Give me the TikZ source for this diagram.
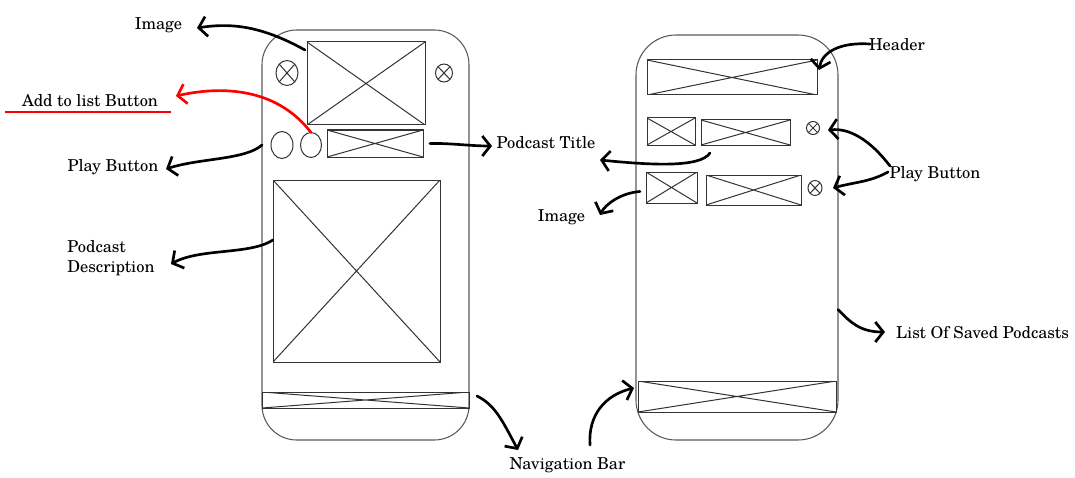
\documentclass[tikz,border=0pt]{standalone}
\usepackage{fontspec}
\setmainfont{TeX Gyre Schola}
\usetikzlibrary{arrows.meta,calc,shapes.geometric}
\begin{document}
\begin{tikzpicture}[x=0.75pt,y=-0.75pt,
  wh/.style 2 args={minimum width=#1*0.75pt,minimum height=#2*0.75pt,inner sep=0pt,outer sep=0pt},
  sketch/.style={draw=black!80,line width=0.75pt},
  phone/.style={draw=black!65,line width=0.8pt,rectangle,rounded corners=#1},
  crossed/.style={path picture={\draw[black!80,line width=0.75pt]
      (path picture bounding box.north west)--(path picture bounding box.south east)
      (path picture bounding box.south west)--(path picture bounding box.north east);}},
  xbox/.style={sketch,rectangle,crossed},
  xcirc/.style={sketch,ellipse,crossed},
  ring/.style={sketch,ellipse},
  lbl/.style={font=\fontsize{12.3}{15}\selectfont,inner sep=1pt},
  harrow/.style={line width=2pt,line cap=round,line join=round,
      -{Straight Barb[length=6pt,width=15pt,line width=2pt]}},
]
\useasboundingbox (0,0) rectangle (1075,478);

% ---------- left phone ----------
\node[phone=26pt,wh={207}{410}] (phoneL) at (365.5,235) {};
\node[xbox,wh={118}{83}] (imgL) at (366,83.5) {};
\node[xcirc,wh={22}{25}] (backL) at (287,73) {};
\node[xcirc,wh={17}{18}] (closeL) at (444,73) {};
\node[ring,wh={22}{27}] (playL) at (282,145) {};
\node[ring,wh={21}{25}] (addL) at (311,145) {};
\node[xbox,wh={96}{27}] (titleL) at (375,143.5) {};
\node[xbox,wh={167}{182}] (descL) at (356.5,271) {};
\node[xbox,wh={207}{16}] (navL) at (365.5,400) {};

% ---------- right phone ----------
\node[phone=30pt,wh={202}{405}] (phoneR) at (737,237.5) {};
\node[xbox,wh={170}{35}] (headR) at (732,77.5) {};
\node[xbox,wh={48}{27}] (thumbR1) at (671,131.5) {};
\node[xbox,wh={89}{25}] (textR1) at (745.5,132.5) {};
\node[xcirc,wh={13}{13}] (playR1) at (813,128) {};
\node[xbox,wh={51}{31}] (thumbR2) at (671.5,187.5) {};
\node[xbox,wh={95}{30}] (textR2) at (753.5,190) {};
\node[xcirc,wh={14}{15}] (playR2) at (815,188) {};
\node[xbox,wh={198}{31}] (navR) at (737,396.5) {};

% ---------- labels ----------
\node[lbl] (lImgL) at (158.5,25) {Image};
\node[lbl] (lAdd) at (90,101) {Add to list Button};
\node[lbl] (lPlayL) at (113,167) {Play Button};
\node[lbl,align=left] (lDesc) at (111,258) {Podcast\\Description};
\node[lbl] (lTitle) at (546,143) {Podcast Title};
\node[lbl] (lNav) at (567.5,465) {Navigation Bar};
\node[lbl] (lHead) at (897,45) {Header};
\node[lbl] (lImgR) at (561.5,217) {Image};
\node[lbl] (lPlayR) at (935,174) {Play Button};
\node[lbl] (lList) at (982.5,333) {List Of Saved Podcasts};

\coordinate (ulA) at (5,112);
\coordinate (ulB) at (171,112);
\draw[red,line width=1.5pt] (ulA) -- (ulB);

% ---------- arrow ends ----------
\coordinate (tImgL) at (197,28);
\coordinate (tAdd) at (176,96);
\coordinate (tPlayL) at (166,169);
\coordinate (tDesc) at (171,264);
\coordinate (tTitleL) at (492,146);
\coordinate (tNavL) at (518,450);
\coordinate (sNavR) at (590,445);
\coordinate (tNavR) at (634,388);
\coordinate (tHead) at (819,70);
\coordinate (sHead) at (870,44);
\coordinate (sPlayR1) at (890,166);
\coordinate (sPlayR2) at (888,172);
\coordinate (tPlayR1) at (828,130);
\coordinate (tPlayR2) at (833,188);
\coordinate (tList) at (885,332);
\coordinate (tTitleR) at (600,160);
\coordinate (tImgR) at (600,215);

% ---------- connectors ----------
\draw[harrow] ($(imgL.north west)+(-2,8)$) .. controls (265,28) and (235,22) .. (tImgL);
\draw[harrow,red] (addL.north) .. controls (280,92) and (230,84) .. (tAdd);
\draw[harrow] (phoneL.west |- playL) .. controls (245,160) and (200,158) .. (tPlayL);
\draw[harrow] ($(descL.west)+(0,-31)$) .. controls (250,255) and (200,248) .. (tDesc);
\draw[harrow] ($(titleL.east)+(7,0)$) .. controls (450,143) and (470,146) .. (tTitleL);
\draw[harrow] ($(navL.east)+(8,-4)$) .. controls (495,405) and (502,420) .. (tNavL);
\draw[harrow] (sNavR) .. controls (588,415) and (605,395) .. (tNavR);
\draw[harrow] (sHead) .. controls (840,42) and (822,52) .. (tHead);
\draw[harrow] (sPlayR1) .. controls (870,140) and (850,128) .. (tPlayR1);
\draw[harrow] (sPlayR2) .. controls (870,182) and (855,182) .. (tPlayR2);
\draw[harrow] ($(phoneR.east)+(0,72)$) .. controls (850,322) and (860,332) .. (tList);
\draw[harrow] ($(textR1.south west)+(9,8)$) .. controls (700,168) and (650,165) .. (tTitleR);
\draw[harrow] ($(thumbR2.west)+(-6,4)$) .. controls (620,193) and (605,205) .. (tImgR);
\end{tikzpicture}
\end{document}
